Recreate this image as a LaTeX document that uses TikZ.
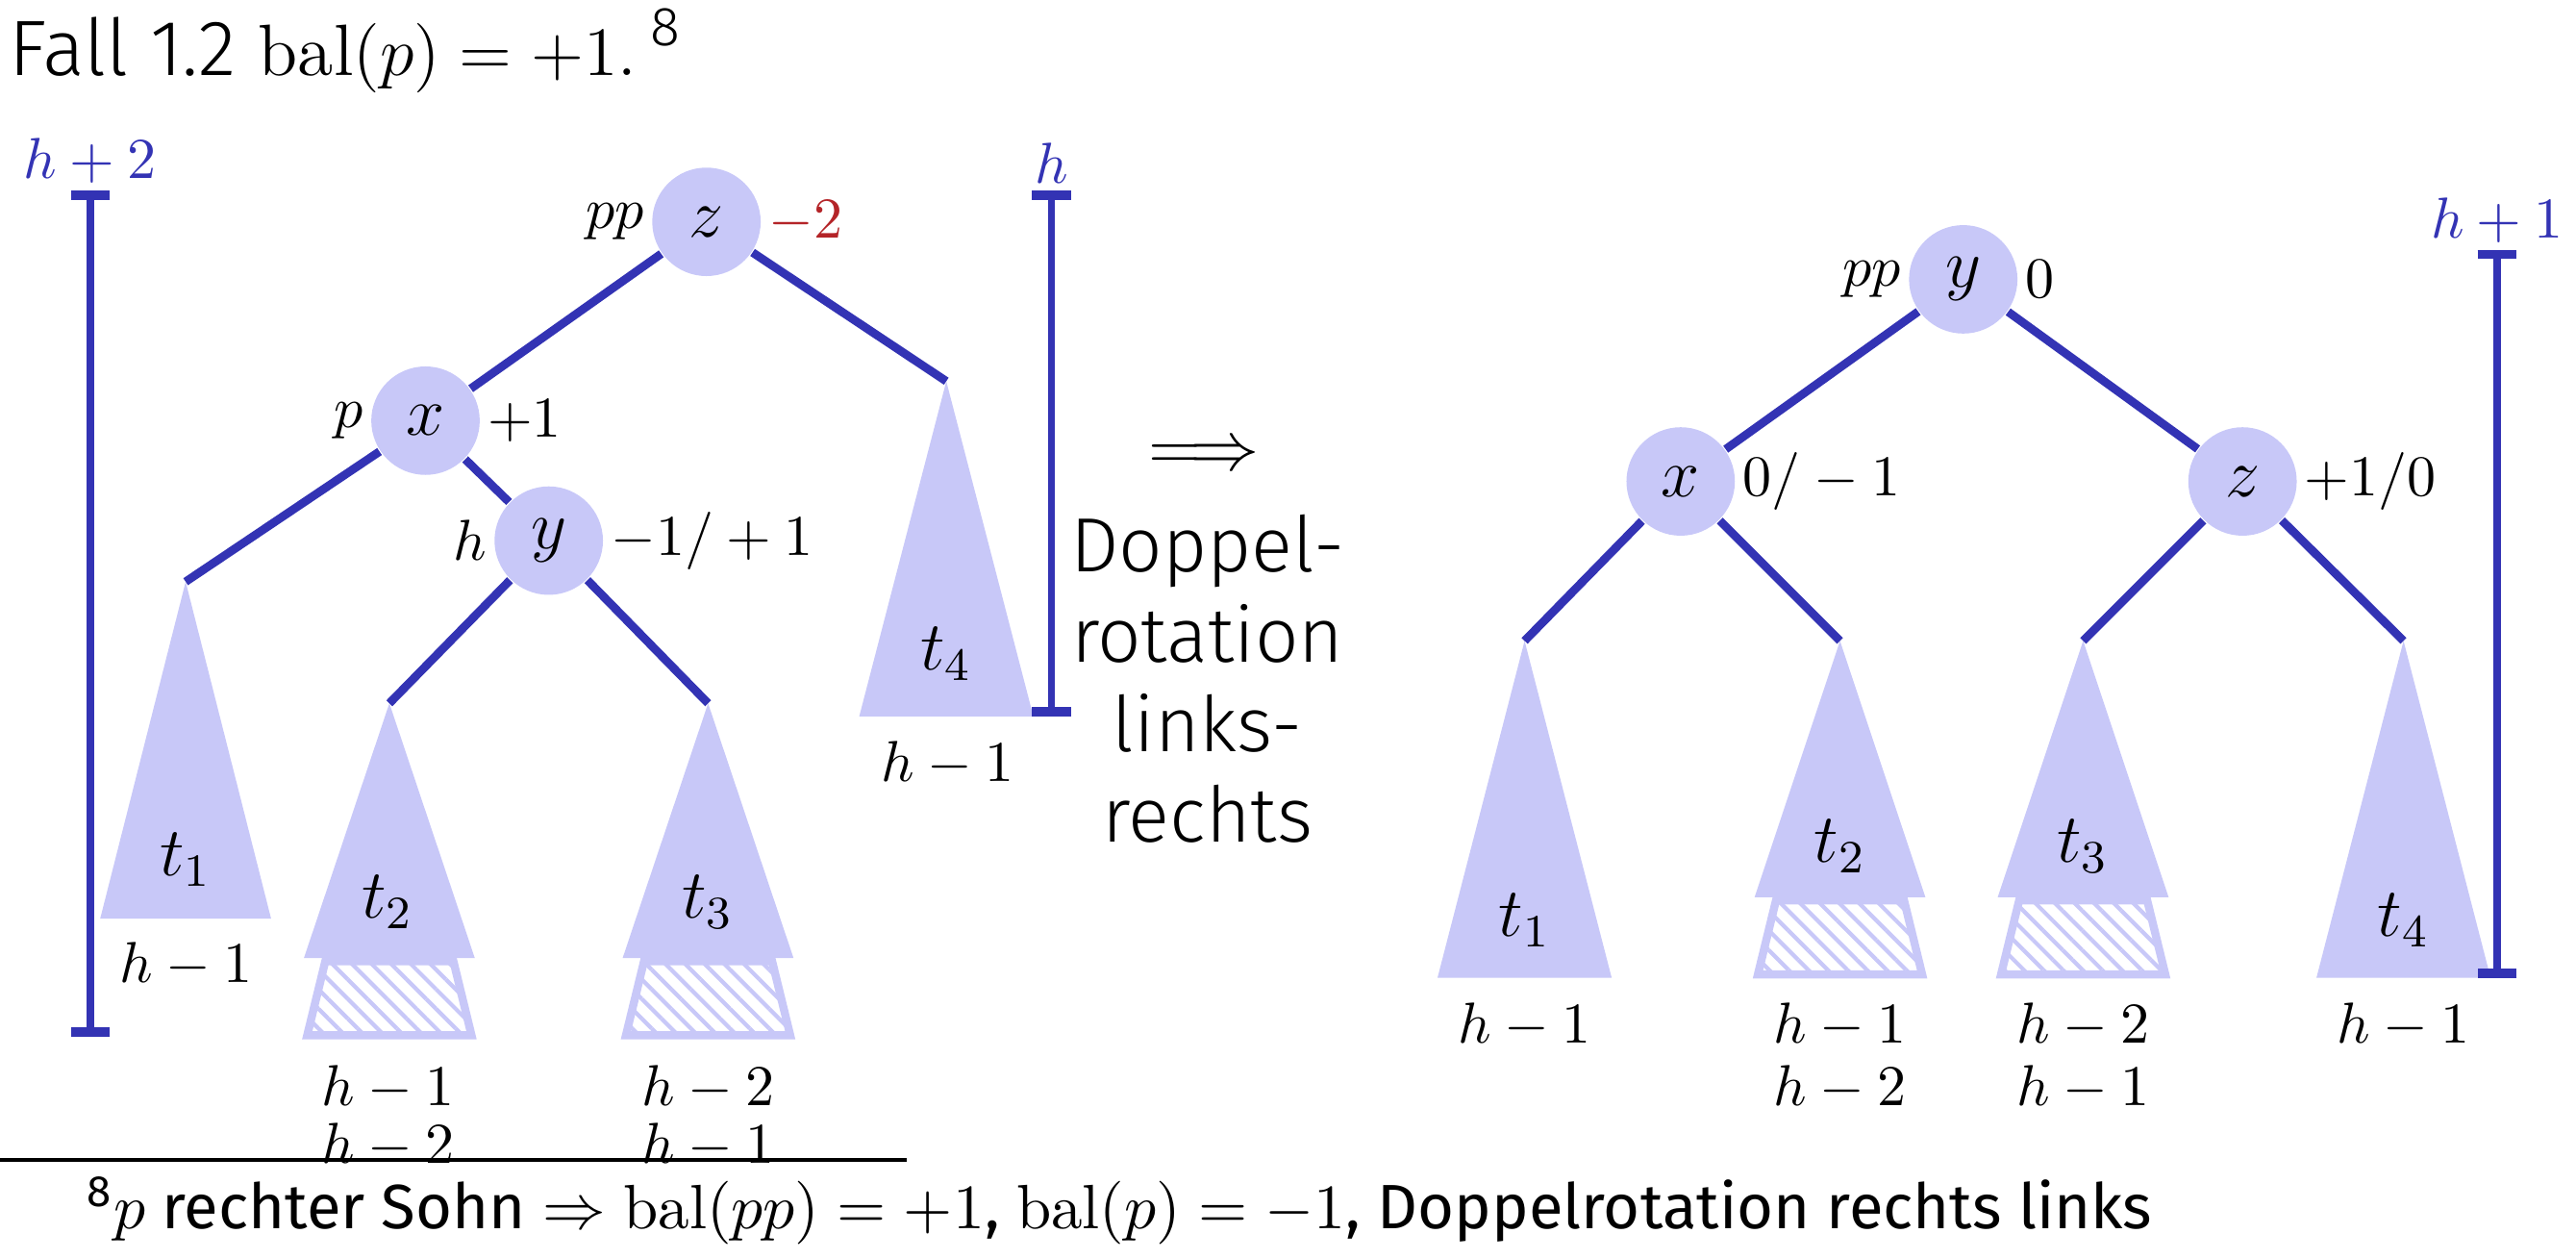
\documentclass[tikz,border=0pt]{standalone}
\usepackage{fontspec}
\usepackage{amsmath}
\newfontfamily\firafont{Fira Sans}
\newfontfamily\firalight{Fira Sans Light}
\usetikzlibrary{arrows.meta,patterns.meta,positioning}
\definecolor{nodefill}{RGB}{200,200,248}
\definecolor{edgeblue}{RGB}{51,51,180}
\definecolor{balred}{RGB}{180,36,40}

\begin{document}
\begin{tikzpicture}[
  font=\normalsize,
  knoten/.style={circle, fill=nodefill, minimum size=0.66cm, inner sep=0pt, font=\large},
  kante/.style={draw=edgeblue, line width=1.45pt},
  baum/.style={fill=nodefill},
  rand/.style={draw=nodefill, line width=1.4pt,
               pattern={Lines[angle=-45, distance=2.4pt, line width=0.7pt]}, pattern color=nodefill},
  hoehe/.style={draw=edgeblue, line width=1.3pt, {Bar[width=6.8pt, line width=1.6pt]}-{Bar[width=6.8pt, line width=1.6pt]}},
  hlbl/.style={text=edgeblue, inner sep=1pt},
  bal/.style={inner sep=1pt},
  tlbl/.style={font=\large, inner sep=0pt},
]
\useasboundingbox (0,0) rectangle (15.68,-7.66);

\node[anchor=base west, inner sep=0, font=\firalight\fontsize{13.6}{15}\selectfont] (titel) at (0.05,-0.46)
  {Fall 1.2 {\fontsize{12.6}{14}\selectfont$\mathrm{bal}(p) = +1.$}\,\textsuperscript{8}};

\node[knoten, label={[bal]left:$pp$}, label={[bal, text=balred]right:$-2$}] (zl) at (4.30,-1.35) {$z$};
\node[knoten, label={[bal]left:$p$}, label={[bal]right:$+1$}] (xl) at (2.59,-2.56) {$x$};
\node[knoten, label={[bal]left:$h$}, label={[bal]right:$-1/+1$}] (yl) at (3.34,-3.29) {$y$};
\coordinate (t1l) at (1.13,-3.54);
\coordinate (t2l) at (2.37,-4.28);
\coordinate (t3l) at (4.31,-4.28);
\coordinate (t4l) at (5.76,-2.32);

\draw[rand] (t2l) ++(-0.39,-1.57) -- ++(0.78,0) -- ++(0.11,-0.45) -- ++(-1.0,0) -- cycle;
\draw[rand] (t3l) ++(-0.39,-1.57) -- ++(0.78,0) -- ++(0.11,-0.45) -- ++(-1.0,0) -- cycle;
\fill[baum] (t1l) -- ++(-0.52,-2.05) -- ++(1.04,0) -- cycle;
\fill[baum] (t2l) -- ++(-0.52,-1.55) -- ++(1.04,0) -- cycle;
\fill[baum] (t3l) -- ++(-0.52,-1.55) -- ++(1.04,0) -- cycle;
\fill[baum] (t4l) -- ++(-0.53,-2.04) -- ++(1.06,0) -- cycle;

\draw[kante] (zl) -- (xl);
\draw[kante] (zl) -- (t4l);
\draw[kante] (xl) -- (t1l);
\draw[kante] (xl) -- (yl);
\draw[kante] (yl) -- (t2l);
\draw[kante] (yl) -- (t3l);

\node[tlbl] (n1l) at (1.13,-5.23) {$t_1$};
\node[tlbl] (n2l) at (2.36,-5.49) {$t_2$};
\node[tlbl] (n3l) at (4.31,-5.49) {$t_3$};
\node[tlbl] (n4l) at (5.76,-3.98) {$t_4$};
\node (h1l) at (1.13,-5.87) {$h-1$};
\node (h2l) at (2.36,-6.62) {$h-1$};
\node (h2lb) at (2.36,-6.97) {$h-2$};
\node (h3l) at (4.31,-6.62) {$h-2$};
\node (h3lb) at (4.31,-6.97) {$h-1$};
\node (h4l) at (5.77,-4.65) {$h-1$};

\coordinate (la) at (0.55,-1.16);
\coordinate (lb) at (0.55,-6.31);
\draw[hoehe] (la) -- (lb);
\node[hlbl, above=0pt of la] (hl) {$h+2$};
\coordinate (ra) at (6.40,-1.16);
\coordinate (rb) at (6.40,-4.36);
\draw[hoehe] (ra) -- (rb);
\node[hlbl, above=0pt of ra] (hr) {$h$};

\node[font=\large] (pfeil) at (7.33,-2.78) {$\Longrightarrow$};
\node[align=center, font=\firalight\fontsize{13.3}{15.6}\selectfont] (dr) at (7.35,-4.13)
  {Doppel-\\rotation\\links-\\rechts};

\node[knoten, label={[bal]left:$pp$}, label={[bal]right:$0$}] (yr) at (11.95,-1.70) {$y$};
\node[knoten, label={[bal]right:$0/-1$}] (xr) at (10.23,-2.93) {$x$};
\node[knoten, label={[bal]right:$+1/0$}] (zr) at (13.65,-2.93) {$z$};
\coordinate (t1r) at (9.28,-3.90);
\coordinate (t2r) at (11.20,-3.90);
\coordinate (t3r) at (12.68,-3.90);
\coordinate (t4r) at (14.63,-3.90);

\draw[rand] (t2r) ++(-0.39,-1.58) -- ++(0.78,0) -- ++(0.11,-0.45) -- ++(-1.0,0) -- cycle;
\draw[rand] (t3r) ++(-0.39,-1.58) -- ++(0.78,0) -- ++(0.11,-0.45) -- ++(-1.0,0) -- cycle;
\fill[baum] (t1r) -- ++(-0.53,-2.05) -- ++(1.06,0) -- cycle;
\fill[baum] (t2r) -- ++(-0.52,-1.56) -- ++(1.04,0) -- cycle;
\fill[baum] (t3r) -- ++(-0.52,-1.56) -- ++(1.04,0) -- cycle;
\fill[baum] (t4r) -- ++(-0.53,-2.05) -- ++(1.06,0) -- cycle;

\draw[kante] (yr) -- (xr);
\draw[kante] (yr) -- (zr);
\draw[kante] (xr) -- (t1r);
\draw[kante] (xr) -- (t2r);
\draw[kante] (zr) -- (t3r);
\draw[kante] (zr) -- (t4r);

\node[tlbl] (n1r) at (9.28,-5.60) {$t_1$};
\node[tlbl] (n2r) at (11.20,-5.15) {$t_2$};
\node[tlbl] (n3r) at (12.68,-5.15) {$t_3$};
\node[tlbl] (n4r) at (14.63,-5.60) {$t_4$};
\node (h1r) at (9.28,-6.24) {$h-1$};
\node (h2r) at (11.20,-6.24) {$h-1$};
\node (h2rb) at (11.20,-6.62) {$h-2$};
\node (h3r) at (12.68,-6.24) {$h-2$};
\node (h3rb) at (12.68,-6.62) {$h-1$};
\node (h4r) at (14.63,-6.24) {$h-1$};

\coordinate (rra) at (15.20,-1.52);
\coordinate (rrb) at (15.20,-5.95);
\draw[hoehe] (rra) -- (rrb);
\node[hlbl, above=0pt of rra] (hrr) {$h+1$};

\coordinate (fa) at (0,-7.06);
\coordinate (fb) at (5.52,-7.06);
\draw[line width=0.6pt] (fa) -- (fb);
\node[anchor=base west, inner sep=0, font=\firafont\fontsize{10.85}{13}\selectfont] (fn) at (0.52,-7.48)
  {\textsuperscript{8}$p$ rechter Sohn $\Rightarrow \mathrm{bal}(pp) = +1$, $\mathrm{bal}(p) = -1$, Doppelrotation rechts links};
\end{tikzpicture}
\end{document}
